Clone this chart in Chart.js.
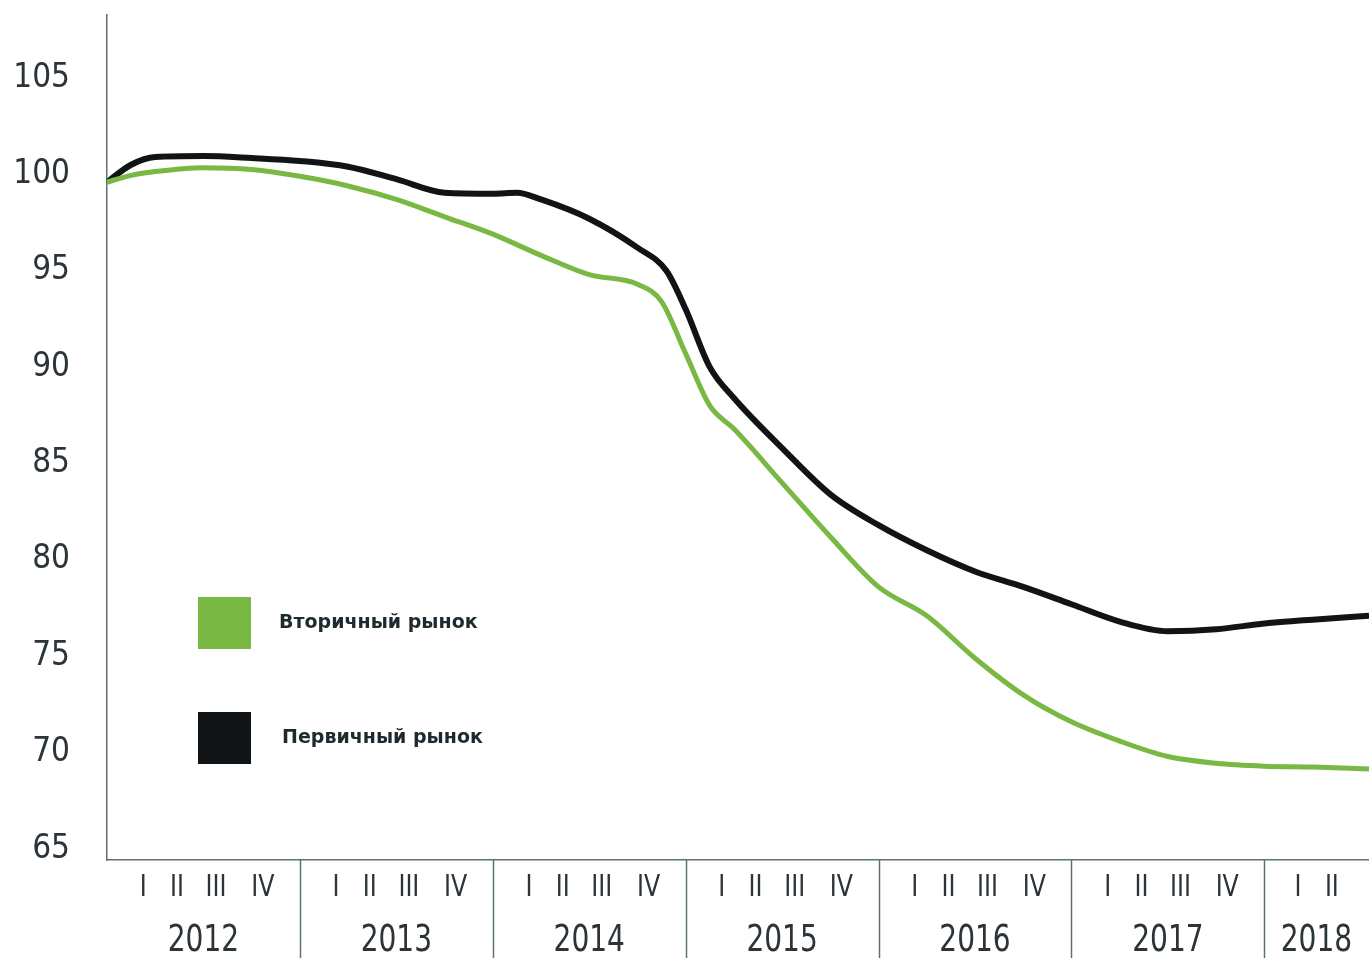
<!DOCTYPE html>
<html>
<head>
<meta charset="utf-8">
<script src="https://cdn.jsdelivr.net/npm/chart.js@4.4.0/dist/chart.umd.min.js"></script>
<style>
    body { margin: 0; background: #ffffff; }
    canvas { display: block; }
</style>
</head>
<body>
<canvas id="priceChart" width="1369" height="958"></canvas>
<script>
// x positions measured in quarters from the start of 2012
const quarterPos = [0, 0.5, 1, 2, 3, 4, 5, 6, 7, 8, 8.5, 9, 10, 11, 11.6, 12, 12.5, 13, 14, 15, 16, 17, 18, 19, 20, 21, 22, 23, 24, 25, 26.17];
const primaryMarket = [99.6, 100.5, 100.9, 100.95, 100.85, 100.7, 100.4, 99.75, 99.05, 99.0, 99.05, 98.7, 97.7, 96.2, 95.0, 93.0, 90.0, 88.4, 85.8, 83.4, 81.8, 80.5, 79.4, 78.6, 77.7, 76.8, 76.3, 76.4, 76.7, 76.9, 77.1];
const secondaryPos = [0, 0.5, 1, 2, 3, 4, 5, 6, 7, 8, 9, 10, 11, 11.5, 12, 12.5, 13, 14, 15, 16, 17, 18, 19, 20, 21, 22, 23, 24, 25, 26.17];
const secondaryMarket = [99.6, 99.95, 100.15, 100.35, 100.25, 99.9, 99.4, 98.7, 97.8, 96.9, 95.8, 94.8, 94.3, 93.4, 90.7, 88.0, 86.8, 84.0, 81.2, 78.6, 77.1, 74.9, 73.0, 71.6, 70.6, 69.8, 69.45, 69.3, 69.25, 69.15];

const yTicks = [65, 70, 75, 80, 85, 90, 95, 100, 105];
const years = ["2012", "2013", "2014", "2015", "2016", "2017", "2018"];
const quarterNames = ["I", "II", "III", "IV"];
const seriesNames = ["Вторичный рынок", "Первичный рынок"];

const axisColor = "#5d7079";
const textColor = "#2a3439";
const greenColor = "#79b843";
const blackColor = "#111416";
const narrowFont = "'Liberation Sans Narrow', 'DejaVu Sans Condensed', Roboto, sans-serif";

// draws text squeezed horizontally, the reference uses a condensed face
function narrowText(ctx, text, x, y, squeeze) {
    ctx.save();
    ctx.translate(x, y);
    ctx.scale(squeeze, 1);
    ctx.fillText(text, 0, 0);
    ctx.restore();
}

const periodLabels = {
    id: "periodLabels",
    afterDraw(chart) {
        const ctx = chart.ctx;
        const x = chart.scales.x;
        const bottom = chart.chartArea.bottom;
        const offsets = [0.75, 1.45, 2.26, 3.23];

        ctx.save();
        ctx.strokeStyle = axisColor;
        ctx.lineWidth = 1.5;
        ctx.fillStyle = textColor;
        ctx.textAlign = "center";
        ctx.textBaseline = "middle";

        years.forEach((year, i) => {
            const start = i * 4;
            if (i > 0) {
                const px = Math.round(x.getPixelForValue(start)) + 0.5;
                ctx.beginPath();
                ctx.moveTo(px, bottom);
                ctx.lineTo(px, chart.height);
                ctx.stroke();
            }

            const count = year === "2018" ? 2 : 4;
            ctx.font = "31px " + narrowFont;
            for (let q = 0; q < count; q++) {
                let off = offsets[q];
                if (year === "2018") off = [0.7, 1.4][q];
                narrowText(ctx, quarterNames[q], x.getPixelForValue(start + off), 888, 0.85);
            }

            ctx.font = "38px " + narrowFont;
            const mid = year === "2018" ? start + 1.08 : start + 2;
            narrowText(ctx, year, x.getPixelForValue(mid), 941, 0.82);
        });
        ctx.restore();
    },
};

const boxLegend = {
    id: "boxLegend",
    afterDraw(chart) {
        const ctx = chart.ctx;
        const items = [
            { text: seriesNames[0], color: greenColor, top: 597, textX: 279 },
            { text: seriesNames[1], color: blackColor, top: 712, textX: 282 },
        ];
        ctx.save();
        ctx.font = "bold 19px 'DejaVu Sans', sans-serif";
        ctx.textBaseline = "middle";
        ctx.textAlign = "left";
        items.forEach((item) => {
            ctx.fillStyle = item.color;
            ctx.fillRect(198, item.top, 53, 52);
            ctx.fillStyle = "#1f2a2f";
            ctx.fillText(item.text, item.textX, item.top + 26);
        });
        ctx.restore();
    },
};

const ctx = document.getElementById("priceChart").getContext("2d");

new Chart(ctx, {
    type: "line",
    data: {
        datasets: [
            {
                label: seriesNames[0],
                data: secondaryPos.map((q, i) => ({ x: q, y: secondaryMarket[i] })),
                borderColor: greenColor,
                borderWidth: 5,
                pointRadius: 0,
                cubicInterpolationMode: "monotone",
                fill: false,
            },
            {
                label: seriesNames[1],
                data: quarterPos.map((q, i) => ({ x: q, y: primaryMarket[i] })),
                borderColor: blackColor,
                borderWidth: 6,
                pointRadius: 0,
                cubicInterpolationMode: "monotone",
                fill: false,
            },
        ],
    },
    options: {
        responsive: false,
        animation: false,
        devicePixelRatio: 1,
        layout: {
            padding: { left: 0, right: 0, top: 15, bottom: 98 },
        },
        plugins: {
            legend: { display: false },
            tooltip: { enabled: false },
        },
        scales: {
            x: {
                type: "linear",
                min: 0,
                max: 26.17,
                grid: { display: false, drawTicks: false },
                border: { display: true, color: axisColor, width: 1.5 },
                ticks: { display: false },
            },
            y: {
                min: 64.43,
                max: 108.27,
                afterBuildTicks: (axis) => {
                    axis.ticks = yTicks.map((v) => ({ value: v }));
                },
                afterFit: (axis) => {
                    axis.width = 107;
                    axis.paddingTop = 0;
                    axis.paddingBottom = 0;
                },
                grid: { display: false, drawTicks: false },
                border: { display: true, color: axisColor, width: 1.5 },
                ticks: {
                    padding: 37,
                    color: textColor,
                    font: { family: narrowFont, size: 33 },
                },
            },
        },
    },
    plugins: [periodLabels, boxLegend],
});
</script>
</body>
</html>
